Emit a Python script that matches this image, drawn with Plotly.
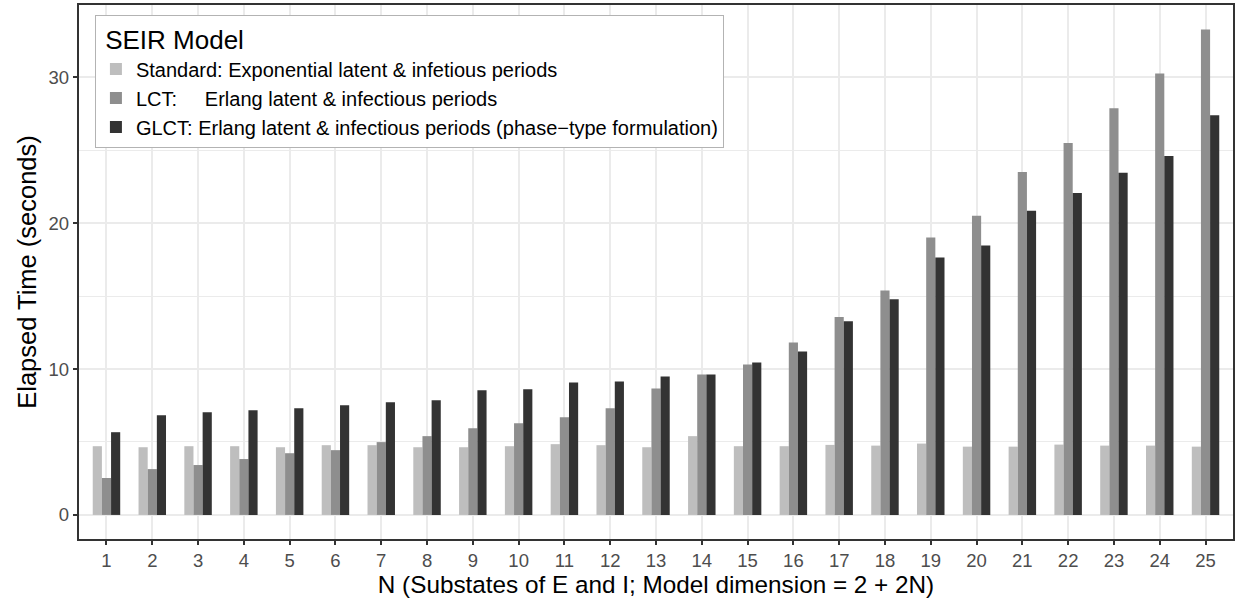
import plotly.graph_objects as go

N = list(range(1, 26))
tick_labels = [str(n) for n in N]

standard = [4.71, 4.64, 4.71, 4.71, 4.64, 4.78, 4.78, 4.64, 4.64, 4.71,
            4.85, 4.78, 4.64, 5.40, 4.71, 4.71, 4.80, 4.75, 4.89, 4.68,
            4.68, 4.82, 4.75, 4.75, 4.68]
lct = [2.53, 3.14, 3.42, 3.83, 4.23, 4.44, 4.99, 5.40, 5.94, 6.28,
       6.69, 7.31, 8.67, 9.63, 10.31, 11.82, 13.56, 15.39, 19.01, 20.51,
       23.50, 25.49, 27.87, 30.26, 33.27]
glct = [5.67, 6.83, 7.04, 7.17, 7.31, 7.51, 7.72, 7.86, 8.54, 8.61,
        9.08, 9.15, 9.49, 9.63, 10.45, 11.20, 13.28, 14.78, 17.65, 18.47,
        20.84, 22.06, 23.45, 24.60, 27.40]

names = [
    "Standard: Exponential latent & infetious periods",
    "LCT:" + "\u00a0" * 5 + "Erlang latent & infectious periods",
    "GLCT: Erlang latent & infectious periods (phase\u2212type formulation)",
]
colors = ["#BEBEBE", "#8E8E8E", "#333333"]
series = [standard, lct, glct]

fig = go.Figure()
for nm, col, vals in zip(names, colors, series):
    fig.add_trace(go.Bar(x=N, y=vals, name=nm, marker=dict(color=col, line=dict(width=0))))

font_family = "Liberation Sans, Arial, sans-serif"
fig.update_layout(
    width=1238, height=603,
    margin=dict(l=79, r=3, t=4, b=64),
    paper_bgcolor="white", plot_bgcolor="white",
    barmode="group", bargap=0.4, bargroupgap=0,
    font=dict(family=font_family, color="black"),
    showlegend=True,
    legend=dict(
        x=0.0138, y=0.982, xanchor="left", yanchor="top",
        bgcolor="white", bordercolor="#B3B3B3", borderwidth=1,
        font=dict(size=20, color="black", family=font_family),
        title=dict(text="\u00a0SEIR Model", font=dict(size=26, family=font_family)),
        tracegroupgap=0,
    ),
    xaxis=dict(
        range=[0.4, 25.6], tickmode="array", tickvals=N, ticktext=tick_labels,
        showgrid=True, gridcolor="#EBEBEB", gridwidth=1.5,
        showline=True, linecolor="#333333", linewidth=1.5, mirror=True,
        ticks="outside", ticklen=4.5, tickwidth=1.5, tickcolor="#333333",
        tickfont=dict(size=18.5, color="#4D4D4D"),
        zeroline=False,
        title=dict(text="N (Substates of E and I; Model dimension = 2 + 2N)",
                   font=dict(size=24.3, color="black"), standoff=4),
    ),
    yaxis=dict(
        range=[-1.65, 34.95], tickmode="array", tickvals=[0, 10, 20, 30],
        showgrid=True, gridcolor="#EBEBEB", gridwidth=1.5,
        minor=dict(tickmode="array", tickvals=[5, 15, 25], showgrid=True,
                   gridcolor="#EBEBEB", gridwidth=0.8, ticks=""),
        showline=True, linecolor="#333333", linewidth=1.5, mirror=True,
        ticks="outside", ticklen=4.5, tickwidth=1.5, tickcolor="#333333",
        tickfont=dict(size=18.5, color="#4D4D4D"),
        zeroline=False,
        title=dict(text="Elapsed Time (seconds)", font=dict(size=25.5, color="black"), standoff=5),
    ),
)

fig.write_html(
    "out.html",
    config={"displayModeBar": False},
    post_script="document.body.style.margin='0';document.body.style.padding='0';"
                "document.documentElement.style.overflow='hidden';",
)
